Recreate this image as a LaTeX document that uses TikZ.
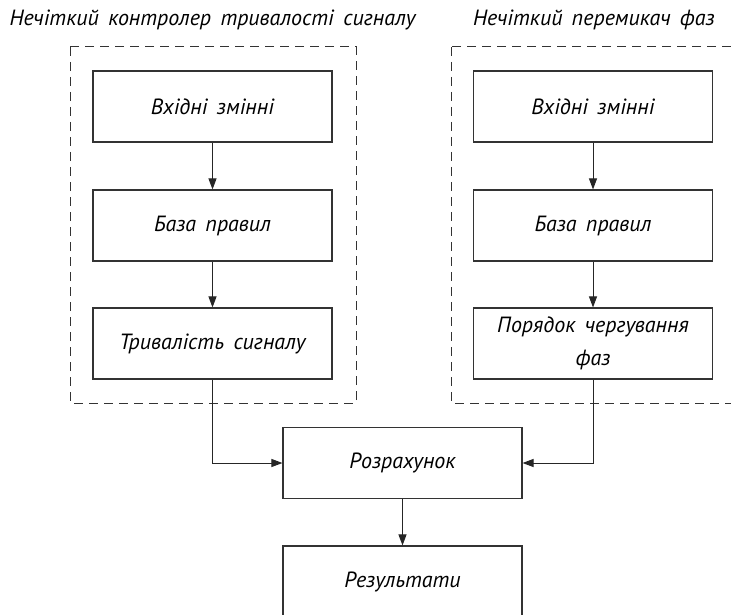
\documentclass[tikz,border=0pt]{standalone}
\usepackage{fontspec}
\setmainfont{PT Sans}[WordSpace=1.6]
\usetikzlibrary{arrows.meta}
\begin{document}
\begin{tikzpicture}[x=1pt,y=-1pt,
  txt/.style={font=\fontsize{22}{33}\selectfont\itshape, text=black},
  blk/.style={txt, draw=black!80, line width=1.1pt, minimum width=239pt,
              minimum height=71pt, align=center, inner sep=0pt},
  group/.style={draw=black!80, line width=1pt, dash pattern=on 9pt off 6pt},
  flow/.style={draw=black!85, line width=1pt,
               -{Triangle[length=11pt,width=8pt]}}]
\useasboundingbox (0,0) rectangle (731,615);

% dashed frames of the two fuzzy units
\draw[group] (70,47) rectangle (356,403);
\draw[group] (451,47) rectangle (760,403);

% unit titles
\node[txt] (tl) at (212.5,20) {Нечіткий контролер тривалості сигналу};
\node[txt] (tr) at (594,20) {Нечіткий перемикач фаз};

% left unit
\node[blk] (l1) at (212.5,106.5) {Вхідні змінні};
\node[blk] (l2) at (212.5,225.5) {База правил};
\node[blk] (l3) at (212.5,343.5) {Тривалість сигналу};

% right unit
\node[blk] (r1) at (593,106.5) {Вхідні змінні};
\node[blk] (r2) at (593,225.5) {База правил};
\node[blk] (r3) at (593,343.5) {Порядок чергування\\фаз};

% common part
\node[blk] (calc) at (402.5,463) {Розрахунок};
\node[blk] (res) at (402.5,581.5) {Результати};

\draw[flow] (l1) -- (l2);
\draw[flow] (l2) -- (l3);
\draw[flow] (r1) -- (r2);
\draw[flow] (r2) -- (r3);
\draw[flow] (l3.south) |- (calc.west);
\draw[flow] (r3.south) |- (calc.east);
\draw[flow] (calc) -- (res);
\end{tikzpicture}
\end{document}
